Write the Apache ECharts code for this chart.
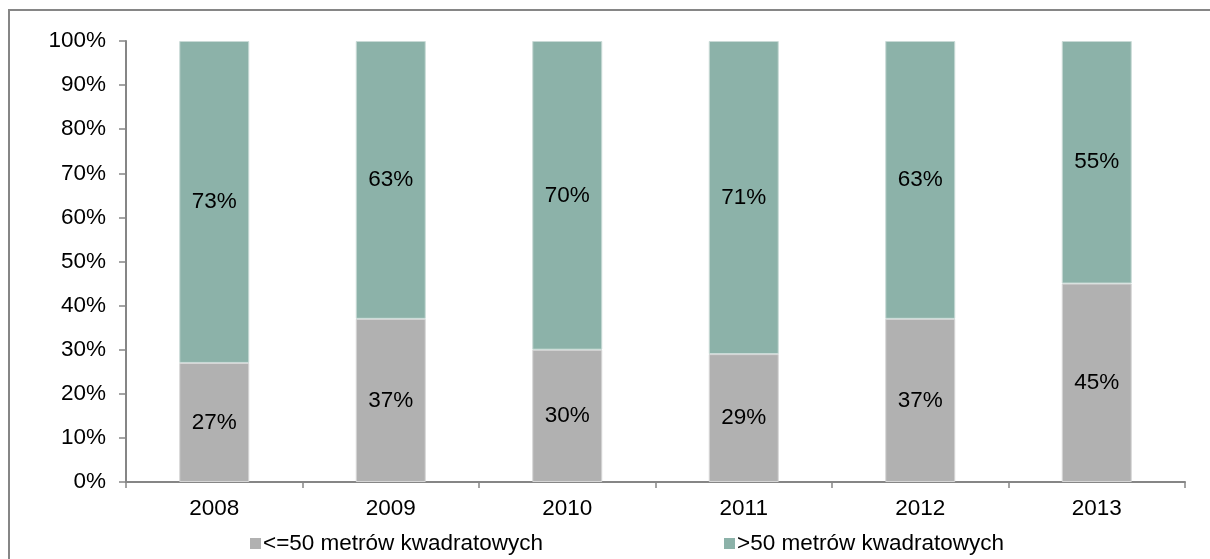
<!DOCTYPE html>
<html>
<head>
<meta charset="utf-8">
<script src="https://cdn.jsdelivr.net/npm/echarts@6/dist/echarts.min.js"></script>
<style>
  html, body { margin: 0; padding: 0; background: #ffffff; }
  #chart { width: 1210px; height: 559px; }
</style>
</head>
<body>
<div id="chart"></div>
<script>
// Share of apartments by floor area, per year (percent)
const years = ['2008', '2009', '2010', '2011', '2012', '2013'];
const smallFlats = [27, 37, 30, 29, 37, 45];   // <=50 m²
const largeFlats = [73, 63, 70, 71, 63, 55];   // >50 m²
const seriesNames = ['<=50 metrów kwadratowych', '>50 metrów kwadratowych'];

const FONT = '"Liberation Sans", Arial, sans-serif';
const FS = 22.5;
const AXIS_COLOR = '#868686';
const GRAY = '#B1B1B1';
const GREEN = '#8CB2A9';

const chart = echarts.init(document.getElementById('chart'), null, { renderer: 'canvas' });

const labelStyle = {
  show: true,
  position: 'inside',
  color: '#000',
  fontFamily: FONT,
  fontSize: FS,
  formatter: p => p.value + '%'
};

const legendBase = {
  top: 527,
  icon: 'rect',
  itemWidth: 11,
  itemHeight: 11,
  itemGap: 5,
  itemStyle: { borderWidth: 0 },
  textStyle: { color: '#000', fontFamily: FONT, fontSize: FS, padding: [0, 0, 0, -3] },
  selectedMode: false
};

chart.setOption({
  animation: false,
  backgroundColor: '#ffffff',
  graphic: [{
    type: 'rect',
    shape: { x: 9, y: 10, width: 1250, height: 600 },
    style: { fill: null, stroke: AXIS_COLOR, lineWidth: 2 },
    silent: true
  }],
  legend: [
    Object.assign({}, legendBase, { left: 245, data: [seriesNames[0]] }),
    Object.assign({}, legendBase, { left: 719, data: [seriesNames[1]] })
  ],
  grid: { left: 126, right: 25, top: 41, bottom: 77, containLabel: false },
  xAxis: {
    type: 'category',
    data: years,
    axisLine: { lineStyle: { color: AXIS_COLOR, width: 2 } },
    axisTick: { show: true, inside: false, length: 6, alignWithLabel: false, lineStyle: { color: AXIS_COLOR, width: 1.5 } },
    axisLabel: { color: '#000', fontFamily: FONT, fontSize: FS, margin: 15 }
  },
  yAxis: {
    type: 'value',
    min: 0,
    max: 100,
    interval: 10,
    splitLine: { show: false },
    axisLine: { show: true, lineStyle: { color: AXIS_COLOR, width: 2 } },
    axisTick: { show: true, length: 7, lineStyle: { color: AXIS_COLOR, width: 1.5 } },
    axisLabel: { color: '#000', fontFamily: FONT, fontSize: FS, margin: 20, formatter: '{value}%' }
  },
  series: [
    {
      name: seriesNames[0],
      type: 'bar',
      stack: 'share',
      barWidth: 70,
      data: smallFlats,
      itemStyle: { color: GRAY, borderColor: '#d6d6d6', borderWidth: 1 },
      label: labelStyle
    },
    {
      name: seriesNames[1],
      type: 'bar',
      stack: 'share',
      barWidth: 70,
      data: largeFlats,
      itemStyle: { color: GREEN, borderColor: '#c9dad6', borderWidth: 1 },
      label: labelStyle
    }
  ]
});
</script>
</body>
</html>
